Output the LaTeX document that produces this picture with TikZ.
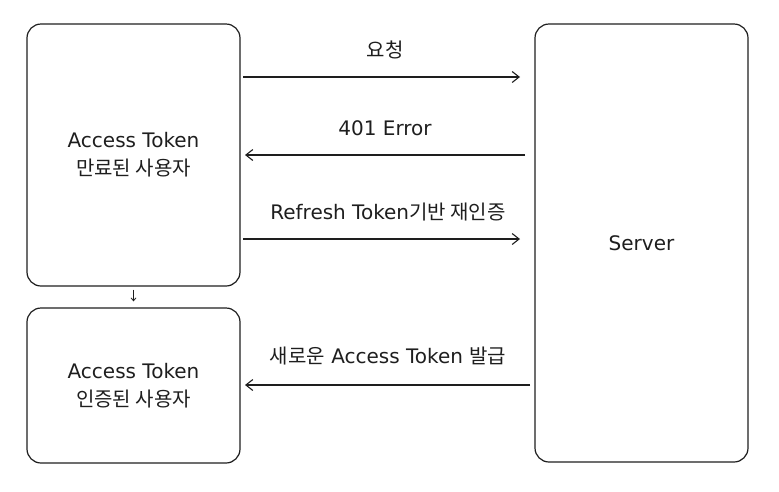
\documentclass[tikz,border=0pt]{standalone}
\usepackage{fontspec}
\setmainfont{DejaVu Sans}
\newfontfamily\kr{Noto Sans CJK KR}
\usetikzlibrary{arrows.meta}
\definecolor{ink}{HTML}{1E1E1E}
\begin{document}
\begin{tikzpicture}[x=1pt,y=-1pt,line width=1.2pt,draw=ink,text=ink,
    font=\fontsize{20}{28}\selectfont,
    actor/.style={draw,rounded corners=14pt,minimum width=213pt,align=center,inner sep=0pt},
    msg/.style={-{Straight Barb[length=7pt,width=11pt]},line width=1.1pt}]
    \useasboundingbox (0,0) rectangle (779,491);
    \node[actor,minimum height=262pt] (expired) at (133.5,155) {Access Token\\{\kr 만료된 사용자}};
    \node[actor,minimum height=155pt] (authed) at (133.5,385.5) {Access Token\\{\kr 인증된 사용자}};
    \node[actor,minimum height=438pt] (server) at (641.5,243) {Server};
    \coordinate (reqA) at (243,77);\coordinate (reqB) at (520,77);
    \coordinate (errA) at (525,155);\coordinate (errB) at (245,155);
    \coordinate (refA) at (243,239);\coordinate (refB) at (520,239);
    \coordinate (newA) at (530,385);\coordinate (newB) at (245,385);
    \node[font=\kr\fontsize{20}{28}\selectfont] (req) at (385,50) {요청};
    \node (err) at (385,128) {401 Error};
    \node (ref) at (388,212) {Refresh Token{\kr 기반 재인증}};
    \node (new) at (388,356) {{\kr 새로운} Access Token {\kr 발급}};
    \draw[msg] (reqA) -- (reqB);
    \draw[msg] (errA) -- (errB);
    \draw[msg] (refA) -- (refB);
    \draw[msg] (newA) -- (newB);
    \draw[-{Straight Barb[length=3pt,width=5pt]},line width=0.8pt,shorten <=3pt,shorten >=6pt] (expired) -- (authed);
\end{tikzpicture}
\end{document}
